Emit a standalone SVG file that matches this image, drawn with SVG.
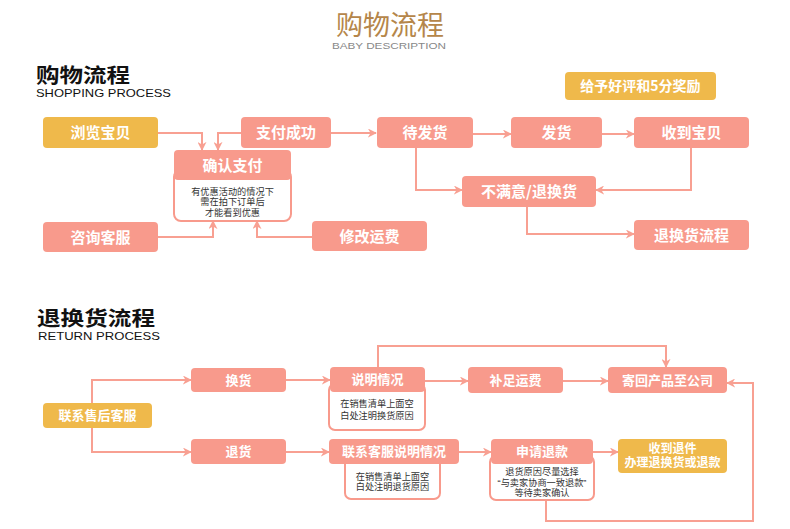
<svg xmlns="http://www.w3.org/2000/svg" width="790" height="529" viewBox="0 0 790 529">
<defs>
<style>
.n{fill:#f89a8c}
.g{fill:#efb94b}
.note{fill:#fff;stroke:#f89a8c;stroke-width:2}
.t{font-family:"Noto Sans CJK SC","Liberation Sans",sans-serif;font-weight:bold;fill:#fff;text-anchor:middle}
.tl{font-family:"Liberation Sans","Noto Sans CJK SC",sans-serif;font-weight:bold;fill:#fff;text-anchor:middle}
.t1{font-size:15px}
.t2{font-size:13px}
.nt{font-family:"Liberation Sans","Noto Sans CJK SC",sans-serif;font-size:9.2px;fill:#333;text-anchor:middle}
.h{font-family:"Liberation Sans","Noto Sans CJK SC",sans-serif;font-size:20px;font-weight:bold;fill:#111}
.sub{font-family:"Liberation Sans",sans-serif;font-size:11px;fill:#111}
.c{fill:none;stroke:#f8a092;stroke-width:2}
</style>
<marker id="a" viewBox="0 0 10 10" refX="9" refY="5" markerWidth="9" markerHeight="9" markerUnits="userSpaceOnUse" orient="auto">
<path d="M0,0 L10,5 L0,10 L3,5 z" fill="#f8a092"/>
</marker>
</defs>
<rect width="790" height="529" fill="#fff"/>

<g id="title">
<text x="390" y="34.5" font-family="'Liberation Sans','Noto Sans CJK SC',sans-serif" font-size="27" fill="#b5864a" text-anchor="middle">购物流程</text>
<text x="389" y="49" font-family="'Liberation Sans',sans-serif" font-size="9.5" fill="#888" text-anchor="middle" textLength="114" lengthAdjust="spacingAndGlyphs">BABY DESCRIPTION</text>
</g>

<g id="heading-shopping">
<text class="h" x="36" y="82.5" textLength="94" lengthAdjust="spacingAndGlyphs">购物流程</text>
<text class="sub" x="36" y="96.8" textLength="135" lengthAdjust="spacingAndGlyphs">SHOPPING PROCESS</text>
</g>

<g id="heading-return">
<text class="h" x="37" y="325.5" textLength="118" lengthAdjust="spacingAndGlyphs">退换货流程</text>
<text class="sub" x="38" y="340" textLength="122" lengthAdjust="spacingAndGlyphs">RETURN PROCESS</text>
</g>

<g id="connectors">
<polyline class="c" points="158,133 202,133 202,150" marker-end="url(#a)"/>
<polyline class="c" points="241,133 218,133 218,150" marker-end="url(#a)"/>
<polyline class="c" points="331,133 376,133" marker-end="url(#a)"/>
<polyline class="c" points="473,134 511,134" marker-end="url(#a)"/>
<polyline class="c" points="602,134 634,134" marker-end="url(#a)"/>
<polyline class="c" points="416,148 416,190 462,190" marker-end="url(#a)"/>
<polyline class="c" points="691,148 691,190 596,190" marker-end="url(#a)"/>
<polyline class="c" points="527,207 527,234 634,234" marker-end="url(#a)"/>
<polyline class="c" points="158,237 213,237 213,221" marker-end="url(#a)"/>
<polyline class="c" points="312,237 257,237 257,221" marker-end="url(#a)"/>
<polyline class="c" points="92,403 92,380 191,380" marker-end="url(#a)"/>
<polyline class="c" points="92,428 92,452 191,452" marker-end="url(#a)"/>
<polyline class="c" points="286,380 330,380" marker-end="url(#a)"/>
<polyline class="c" points="425,381 468,381" marker-end="url(#a)"/>
<polyline class="c" points="563,381 608,381" marker-end="url(#a)"/>
<polyline class="c" points="378,367 378,346 666,346 666,367" marker-end="url(#a)"/>
<polyline class="c" points="286,452 329,452" marker-end="url(#a)"/>
<polyline class="c" points="459,452 491,452" marker-end="url(#a)"/>
<polyline class="c" points="593,452 618,452" marker-end="url(#a)"/>
<polyline class="c" points="546,500 546,521 753,521 753,383 727,383" marker-end="url(#a)"/>
</g>

<g id="reward">
<rect class="g" x="565" y="72" width="151" height="28" rx="4"/>
<text class="t" x="640.5" y="91" font-size="14">给予好评和5分奖励</text>
</g>

<g id="browse">
<rect class="g" x="43" y="117" width="115" height="31" rx="4"/>
<text class="t t1" x="100.5" y="138">浏览宝贝</text>
</g>
<g id="paid">
<rect class="n" x="241" y="117" width="90" height="31" rx="4"/>
<text class="t t1" x="286" y="138">支付成功</text>
</g>
<g id="confirm">
<rect class="note" x="174" y="170" width="117" height="51" rx="7"/>
<rect class="n" x="174" y="150" width="117" height="30" rx="4"/>
<text class="t t1" x="232.5" y="170.5">确认支付</text>
<text class="nt" x="232.5" y="194.5">有优惠活动的情况下<tspan x="232.5" dy="10.8">需在拍下订单后</tspan><tspan x="232.5" dy="10.8">才能看到优惠</tspan></text>
</g>
<g id="pending">
<rect class="n" x="377" y="117" width="96" height="31" rx="4"/>
<text class="t t1" x="425" y="138">待发货</text>
</g>
<g id="ship">
<rect class="n" x="511" y="117" width="91" height="31" rx="4"/>
<text class="t t1" x="556.5" y="138">发货</text>
</g>
<g id="received">
<rect class="n" x="634" y="117" width="115" height="31" rx="4"/>
<text class="t t1" x="691.5" y="138">收到宝贝</text>
</g>
<g id="unsatisfied">
<rect class="n" x="462" y="176" width="134" height="31" rx="4"/>
<text class="t t1" x="529" y="197">不满意/退换货</text>
</g>
<g id="consult">
<rect class="n" x="43" y="222" width="115" height="30" rx="4"/>
<text class="t t1" x="100.5" y="242.5">咨询客服</text>
</g>
<g id="modify">
<rect class="n" x="312" y="221" width="115" height="30" rx="4"/>
<text class="t t1" x="369.5" y="241.5">修改运费</text>
</g>
<g id="return-flow">
<rect class="n" x="634" y="220" width="115" height="30" rx="4"/>
<text class="t t1" x="691.5" y="240.5">退换货流程</text>
</g>

<g id="contact-after">
<rect class="g" x="43" y="403" width="109" height="25" rx="4"/>
<text class="t t2" x="97.5" y="420">联系售后客服</text>
</g>
<g id="exchange">
<rect class="n" x="191" y="368" width="95" height="24" rx="4"/>
<text class="t t2" x="238.5" y="384.5">换货</text>
</g>
<g id="explain">
<rect class="note" x="329" y="384" width="96" height="46" rx="6"/>
<rect class="n" x="330" y="367" width="95" height="25" rx="4"/>
<text class="t t2" x="377.5" y="384">说明情况</text>
<text class="nt" x="377" y="406.5">在销售清单上面空<tspan x="377" dy="12">白处注明换货原因</tspan></text>
</g>
<g id="add-fee">
<rect class="n" x="468" y="367" width="95" height="26" rx="4"/>
<text class="t t2" x="515.5" y="384.5">补足运费</text>
</g>
<g id="send-back">
<rect class="n" x="608" y="367" width="119" height="26" rx="4"/>
<text class="t t2" x="667.5" y="384.5">寄回产品至公司</text>
</g>
<g id="refund-goods">
<rect class="n" x="191" y="439" width="95" height="25" rx="4"/>
<text class="t t2" x="238.5" y="456">退货</text>
</g>
<g id="contact-explain">
<rect class="note" x="345" y="456" width="95" height="43" rx="6"/>
<rect class="n" x="329" y="439" width="130" height="25" rx="4"/>
<text class="t t2" x="394" y="456">联系客服说明情况</text>
<text class="nt" x="392.5" y="479.5" font-size="9">在销售清单上面空<tspan x="392.5" dy="10.8">白处注明退货原因</tspan></text>
</g>
<g id="apply-refund">
<rect class="note" x="490" y="456" width="104" height="44" rx="6"/>
<rect class="n" x="491" y="439" width="102" height="25" rx="4"/>
<text class="t t2" x="542" y="456">申请退款</text>
<text class="nt" x="542" y="475.3" font-size="8.8">退货原因尽量选择<tspan x="542" dy="10.3">“与卖家协商一致退款”</tspan><tspan x="542" dy="10.3">等待卖家确认</tspan></text>
</g>
<g id="done">
<rect class="g" x="618" y="439" width="109" height="34" rx="4"/>
<text class="tl" x="672.5" y="453" font-size="12">收到退件<tspan x="672.5" dy="14">办理退换货或退款</tspan></text>
</g>
</svg>
